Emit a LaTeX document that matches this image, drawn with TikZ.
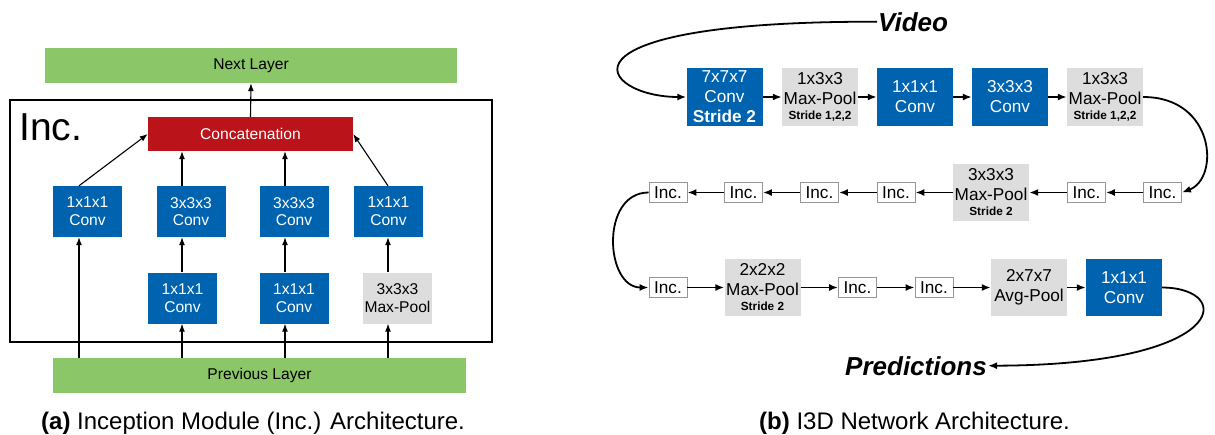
\documentclass[tikz,border=0pt]{standalone}
\usepackage{fontspec}
\setmainfont{Liberation Sans}
\usetikzlibrary{arrows.meta}
\definecolor{convblue}{RGB}{0,99,176}
\definecolor{concatred}{RGB}{186,20,26}
\definecolor{layergreen}{RGB}{139,198,104}
\definecolor{poolgray}{RGB}{221,221,221}
\definecolor{incedge}{RGB}{150,150,150}
\newcommand\fsz[2]{\fontsize{#1}{#2}\selectfont}
\newcommand\stridetxt[1]{{\bfseries\fsz{11.8}{13}\selectfont #1}}
\begin{document}
\begin{tikzpicture}[x=1pt,y=-1pt,
  lconv/.style={fill=convblue,text=white,inner sep=0pt,align=center,
    minimum width=69pt,minimum height=51pt,font=\fsz{15.6}{17.7}},
  lpool/.style={lconv,fill=poolgray,text=black},
  layer/.style={fill=layergreen,inner sep=0pt,minimum height=35pt,font=\fsz{15.6}{18}},
  rconv/.style={fill=convblue,text=white,inner sep=0pt,align=center,
    minimum width=76pt,minimum height=58pt,font=\fsz{17.2}{20}},
  rpool/.style={rconv,fill=poolgray,text=black},
  incbox/.style={draw=incedge,line width=0.8pt,fill=white,inner sep=0pt,
    minimum width=38pt,minimum height=19.5pt,font=\fsz{17.2}{20}},
  larr/.style={line width=1.1pt,-{Latex[length=8pt,width=6pt]}},
  rarr/.style={line width=1.8pt,-{Latex[length=9pt,width=7pt]}},
  caption/.style={anchor=base west,inner sep=0pt,font=\fsz{24}{28}},
  bigword/.style={inner sep=1pt,font=\fsz{26}{30}\bfseries\itshape}]
\useasboundingbox (0,0) rectangle (1215,434);

% ---------- (a) inception module ----------
\node[layer,minimum width=412pt] (next) at (251,65.5) {Next Layer};
\node[draw,line width=2.2pt,inner sep=0pt,minimum width=482pt,minimum height=242pt] (incmod) at (251,221) {};
\node[anchor=base west,inner sep=0pt,font=\fsz{39}{44}] (inctitle) at (19,140) {Inc.};
\node[fill=concatred,text=white,inner sep=0pt,minimum width=205pt,minimum height=34pt,
      font=\fsz{15.6}{18}] (concat) at (250.5,134) {Concatenation};

\node[lconv] (t1) at (87.5,211.5) {1x1x1\\Conv};
\node[lconv] (t2) at (191,211.5) {3x3x3\\Conv};
\node[lconv] (t3) at (294,211.5) {3x3x3\\Conv};
\node[lconv] (t4) at (388.5,211.5) {1x1x1\\Conv};

\node[lconv] (u2) at (182.5,298) {1x1x1\\Conv};
\node[lconv] (u3) at (294,298) {1x1x1\\Conv};
\node[lpool] (u4) at (397.5,298) {3x3x3\\Max-Pool};

\node[layer,minimum width=413pt] (prev) at (259.5,375.5) {Previous Layer};

\coordinate (k1) at (79,0);
\coordinate (k2) at (182,0);
\coordinate (k3) at (285,0);
\coordinate (k4) at (388,0);

\draw[larr] (prev.north -| k1) -- (t1.south -| k1);
\draw[larr] (t1.north -| k1) -- (concat.west);
\draw[larr] (prev.north -| k2) -- (u2.south -| k2);
\draw[larr] (u2.north -| k2) -- (t2.south -| k2);
\draw[larr] (t2.north -| k2) -- (concat.south -| k2);
\draw[larr] (prev.north -| k3) -- (u3.south -| k3);
\draw[larr] (u3.north -| k3) -- (t3.south -| k3);
\draw[larr] (t3.north -| k3) -- (concat.south -| k3);
\draw[larr] (prev.north -| k4) -- (u4.south -| k4);
\draw[larr] (u4.north -| k4) -- (t4.south -| k4);
\draw[larr] (t4.north -| k4) -- (concat.east);
\draw[larr] (concat.north) -- (next.south);

% ---------- (b) I3D network ----------
\node[bigword,anchor=base west] (video) at (877,31) {Video};

\node[rconv] (a1) at (724.5,97) {7x7x7\\Conv\\{\bfseries Stride 2}};
\node[rpool] (a2) at (820,97) {1x3x3\\Max-Pool\\[-5pt]\stridetxt{Stride 1,2,2}};
\node[rconv] (a3) at (915,97) {1x1x1\\Conv};
\node[rconv] (a4) at (1010,97) {3x3x3\\Conv};
\node[rpool] (a5) at (1105,97) {1x3x3\\Max-Pool\\[-5pt]\stridetxt{Stride 1,2,2}};

\node[incbox] (m1) at (668,192.5) {Inc.};
\node[incbox] (m2) at (743.5,192.5) {Inc.};
\node[incbox] (m3) at (819.5,192.5) {Inc.};
\node[incbox] (m4) at (896,192.5) {Inc.};
\node[rpool,minimum height=57pt] (mp) at (991,192.5) {3x3x3\\Max-Pool\\[-5pt]\stridetxt{Stride 2}};
\node[incbox] (m6) at (1086.5,192.5) {Inc.};
\node[incbox] (m7) at (1162.5,192.5) {Inc.};

\node[incbox] (n1) at (668,287.5) {Inc.};
\node[rpool,minimum height=57pt] (np) at (762.5,287.5) {2x2x2\\Max-Pool\\[-5pt]\stridetxt{Stride 2}};
\node[incbox] (n3) at (857.5,287.5) {Inc.};
\node[incbox] (n4) at (934,287.5) {Inc.};
\node[rpool,minimum height=57pt] (avg) at (1029,287.5) {2x7x7\\Avg-Pool};
\node[rconv,minimum height=57pt] (fc) at (1124,287.5) {1x1x1\\Conv};

\node[bigword,anchor=base east] (pred) at (988,375) {Predictions};

\draw[rarr] (a1) -- (a2);
\draw[rarr] (a2) -- (a3);
\draw[rarr] (a3) -- (a4);
\draw[rarr] (a4) -- (a5);

\draw[rarr] (m7) -- (m6);
\draw[rarr] (m6) -- (mp);
\draw[rarr] (mp) -- (m4);
\draw[rarr] (m4) -- (m3);
\draw[rarr] (m3) -- (m2);
\draw[rarr] (m2) -- (m1);

\draw[rarr] (n1) -- (np);
\draw[rarr] (np) -- (n3);
\draw[rarr] (n3) -- (n4);
\draw[rarr] (n4) -- (avg);
\draw[rarr] (avg) -- (fc);

\draw[rarr] (video.west) .. controls (540,21) and (600,97) .. (a1.west);
\draw[rarr] (a5.east) .. controls (1215,97) and (1220,178) .. (m7.east);
\draw[rarr] (m1.west) .. controls (600,192.5) and (605,287.5) .. (n1.west);
\draw[rarr] (fc.east) .. controls (1235,288) and (1230,365) .. (pred.east);

% ---------- captions ----------
\node[caption] (capa) at (41,429) {\textbf{(a)} Inception Module (Inc.) Architecture.};
\node[caption] (capb) at (759,429) {\textbf{(b)} I3D Network Architecture.};
\end{tikzpicture}
\end{document}
